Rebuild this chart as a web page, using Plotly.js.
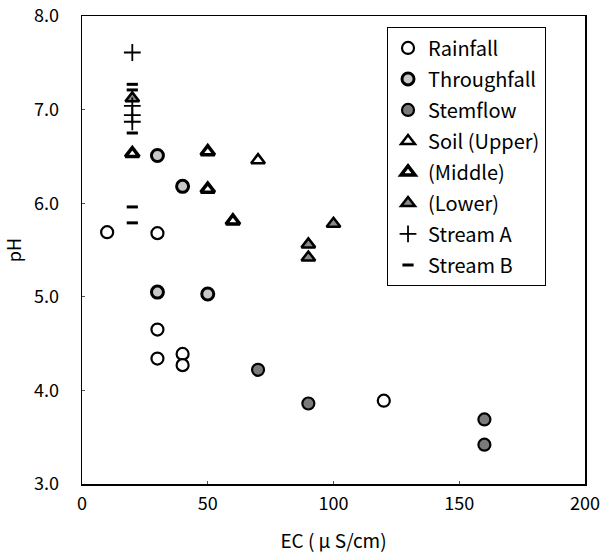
<!DOCTYPE html>
<html>
<head>
<meta charset="utf-8">
<script src="https://cdn.plot.ly/plotly-3.0.1.min.js"></script>
<style>html,body{margin:0;padding:0;background:#fff;}#chart{width:600px;height:559px;}</style>
</head>
<body>
<div id="chart"></div>
<script>
// EC (µS/cm) and pH values
const rainfallEC = [10, 30, 30, 30, 40, 40, 120];
const rainfallPH = [5.69, 5.68, 4.65, 4.34, 4.39, 4.27, 3.89];

const throughfallEC = [30, 40, 30, 50];
const throughfallPH = [6.51, 6.18, 5.05, 5.03];

const stemflowEC = [70, 90, 160, 160];
const stemflowPH = [4.22, 3.86, 3.69, 3.42];

const soilUpperEC = [70];
const soilUpperPH = [6.46];

const soilMiddleEC = [20, 50, 50, 60];
const soilMiddlePH = [6.53, 6.55, 6.15, 5.81];

const soilLowerEC = [20, 90, 90, 100];
const soilLowerPH = [7.12, 5.56, 5.42, 5.78];

const streamAEC = [20, 20, 20, 20];
const streamAPH = [7.61, 7.04, 6.94, 6.87];

const streamBEC = [20, 20, 20, 20, 20];
const streamBPH = [7.27, 7.21, 6.75, 5.96, 5.79];

const xTicks = [0, 50, 100, 150, 200];
const yTicks = [3, 4, 5, 6, 7, 8];
const yTickText = ['3.0', '4.0', '5.0', '6.0', '7.0', '8.0'];

const FONT = 'Noto Sans CJK JP, Liberation Sans, Arial, sans-serif';

function tr(name, xs, ys, marker) {
  return {type: 'scatter', mode: 'markers', name: name, legendgroup: name, x: xs, y: ys, marker: marker, cliponaxis: false};
}

const data = [
  tr('Rainfall', rainfallEC, rainfallPH, {symbol: 'circle', size: 12, color: '#ffffff', line: {color: '#000', width: 2.2}}),
  tr('Throughfall', throughfallEC, throughfallPH, {symbol: 'circle', size: 12, color: '#c8c8c8', line: {color: '#000', width: 3}}),
  tr('Stemflow', stemflowEC, stemflowPH, {symbol: 'circle', size: 12, color: '#7a7a7a', line: {color: '#000', width: 2.2}}),
  tr('Soil (Upper)', soilUpperEC, soilUpperPH, {symbol: 'triangle-up', size: 12, color: '#ffffff', line: {color: '#000', width: 2.5}}),
  tr('(Middle)', soilMiddleEC, soilMiddlePH, {symbol: 'triangle-up', size: 12, color: '#ffffff', line: {color: '#000', width: 3.5}}),
  tr('(Lower)', soilLowerEC, soilLowerPH, {symbol: 'triangle-up', size: 12, color: '#8a8a8a', line: {color: '#000', width: 2.5}}),
  tr('Stream A', streamAEC, streamAPH, {symbol: 'cross-thin', size: 12, color: '#000', line: {color: '#000', width: 1.8}}),
  tr('Stream B', streamBEC, streamBPH, {symbol: 'line-ew', size: 8, color: '#000', line: {color: '#000', width: 3}})
];

const layout = {
  width: 600, height: 559,
  margin: {l: 82, r: 15, t: 16, b: 75},
  paper_bgcolor: '#ffffff', plot_bgcolor: '#ffffff',
  font: {family: FONT, size: 18, color: '#000'},
  showlegend: true,
  legend: {
    x: 0.606, y: 0.976, xanchor: 'left', yanchor: 'top',
    bordercolor: '#000', borderwidth: 1.2, bgcolor: '#ffffff',
    font: {family: FONT, size: 20, color: '#000'},
    itemwidth: 30, traceorder: 'grouped', tracegroupgap: 2
  },
  xaxis: {
    range: [0, 200], tickvals: xTicks, ticktext: xTicks.map(String),
    showgrid: false, zeroline: false, showline: true, mirror: true,
    linecolor: '#000', linewidth: 1.5, ticks: 'inside', ticklen: 3, tickcolor: '#555',
    tickfont: {family: FONT, size: 18}, ticklabelstandoff: 3,
    title: {text: 'EC ( μ S/cm)', font: {family: FONT, size: 19}, standoff: 20}
  },
  yaxis: {
    range: [3, 8], tickvals: yTicks, ticktext: yTickText,
    showgrid: false, zeroline: false, showline: true, mirror: true,
    linecolor: '#000', linewidth: 1.5, ticks: 'inside', ticklen: 3, tickcolor: '#555',
    tickfont: {family: FONT, size: 18}, ticklabelstandoff: 18,
    title: {text: 'pH', font: {family: FONT, size: 18}, standoff: 10}
  }
};

Plotly.newPlot('chart', data, layout, {displayModeBar: false, staticPlot: true});
</script>
</body>
</html>
